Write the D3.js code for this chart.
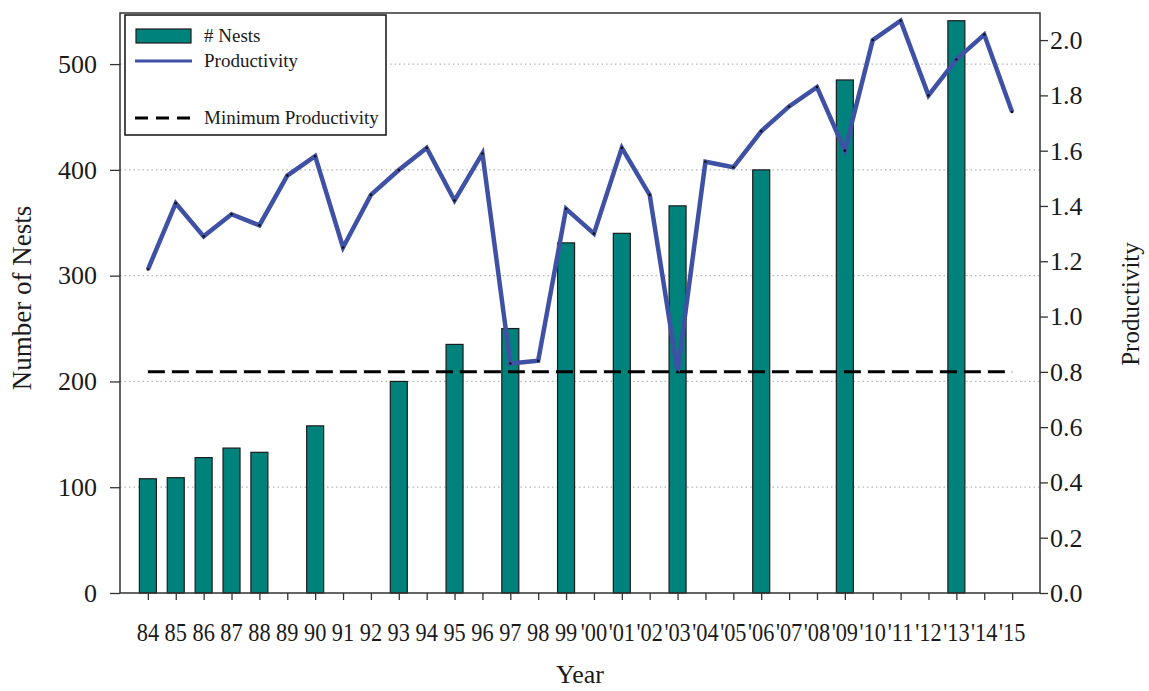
<!DOCTYPE html>
<html>
<head>
<meta charset="utf-8">
<script src="https://cdn.jsdelivr.net/npm/d3@7"></script>
<style>
  html, body { margin: 0; padding: 0; background: #fff; }
  svg { display: block; font-family: "Liberation Serif", "Times New Roman", serif; }
</style>
</head>
<body>
<svg id="chart" width="1149" height="691"></svg>
<script>
// ---- data ----
const years = ["84","85","86","87","88","89","90","91","92","93","94","95","96","97","98","99",
  "'00","'01","'02","'03","'04","'05","'06","'07","'08","'09","'10","'11","'12","'13","'14","'15"];
const nests = [108,109,128,137,133,null,158,null,null,200,null,235,null,250,null,331,
  null,340,null,366,null,null,400,null,null,485,null,null,null,541,null,null];
const productivity = [1.17,1.41,1.29,1.37,1.33,1.51,1.58,1.25,1.44,1.53,1.61,1.42,1.59,0.83,0.84,1.39,
  1.30,1.61,1.44,0.80,1.56,1.54,1.67,1.76,1.83,1.60,2.00,2.07,1.80,1.93,2.02,1.74];
const minProductivity = 0.8;
const leftTicks = [0,100,200,300,400,500];
const rightTicks = [0,0.2,0.4,0.6,0.8,1.0,1.2,1.4,1.6,1.8,2.0];

// ---- layout ----
const L = 120, R = 1040, T = 13, B = 593;
const svg = d3.select("#chart");

const x = d3.scalePoint().domain(years).range([L, R]).padding(1);
const yL = d3.scaleLinear().domain([0, 548.3]).range([B, T]);
const yR = d3.scaleLinear().domain([0, 2.098]).range([B, T]);

const teal = "#00827C", blue = "#3F51A5", axisCol = "#333", textCol = "#1a1a1a";

// gridlines
svg.append("g").selectAll("line").data(leftTicks.filter(d => d > 0)).join("line")
  .attr("x1", L).attr("x2", R)
  .attr("y1", d => yL(d)).attr("y2", d => yL(d))
  .attr("stroke", "#b5b5b5").attr("stroke-width", 1.2).attr("stroke-dasharray", "1.5,3");

// bars
const bw = 17;
svg.append("g").selectAll("rect")
  .data(years.map((y, i) => ({ y, v: nests[i] })).filter(d => d.v != null))
  .join("rect")
  .attr("x", d => x(d.y) - bw / 2).attr("width", bw)
  .attr("y", d => yL(d.v)).attr("height", d => yL(0) - yL(d.v))
  .attr("fill", teal).attr("stroke", "#1c1c1c").attr("stroke-width", 1.2);

// minimum productivity dashed line
svg.append("line")
  .attr("x1", x(years[0])).attr("x2", x(years[years.length - 1]))
  .attr("y1", yR(minProductivity)).attr("y2", yR(minProductivity))
  .attr("stroke", "#000").attr("stroke-width", 3).attr("stroke-dasharray", "17,7");

// productivity line
const line = d3.line().x((d, i) => x(years[i])).y(d => yR(d));
svg.append("path").datum(productivity)
  .attr("d", line).attr("fill", "none")
  .attr("stroke", blue).attr("stroke-width", 4.5).attr("stroke-linejoin", "miter");
svg.append("g").selectAll("circle").data(productivity).join("circle")
  .attr("cx", (d, i) => x(years[i])).attr("cy", d => yR(d)).attr("r", 1.3).attr("fill", "#111");

// frame
svg.append("rect").attr("x", L).attr("y", T).attr("width", R - L).attr("height", B - T)
  .attr("fill", "none").attr("stroke", axisCol).attr("stroke-width", 1.5);

// left axis
const gl = svg.append("g").attr("transform", `translate(${L},0)`)
  .call(d3.axisLeft(yL).tickValues(leftTicks).tickSize(10).tickPadding(13).tickFormat(d3.format("d")));
gl.select(".domain").remove();
gl.selectAll("line").attr("stroke", axisCol).attr("stroke-width", 1.3);
gl.selectAll("text").attr("font-size", 26).attr("fill", textCol)
  .attr("font-family", "Liberation Serif, serif");

// right axis
const gr = svg.append("g").attr("transform", `translate(${R},0)`)
  .call(d3.axisRight(yR).tickValues(rightTicks).tickSize(8).tickPadding(2).tickFormat(d3.format(".1f")));
gr.select(".domain").remove();
gr.selectAll("line").attr("stroke", axisCol).attr("stroke-width", 1.3);
gr.selectAll("text").attr("font-size", 26).attr("fill", textCol)
  .attr("font-family", "Liberation Serif, serif");

// bottom axis
const gb = svg.append("g").attr("transform", `translate(0,${B})`)
  .call(d3.axisBottom(x).tickSize(7).tickPadding(0));
gb.select(".domain").remove();
gb.selectAll("line").attr("stroke", axisCol).attr("stroke-width", 1.3);
gb.selectAll("text").remove();
svg.append("g").selectAll("text").data(years).join("text")
  .attr("transform", d => `translate(${x(d)},${641}) scale(0.86,1)`)
  .attr("text-anchor", "middle").attr("font-size", 26).attr("fill", textCol)
  .text(d => d);

// axis titles
svg.append("text").attr("x", 580).attr("y", 683).attr("text-anchor", "middle")
  .attr("font-size", 26).attr("fill", textCol).text("Year");
svg.append("text").attr("transform", `translate(31,${298}) rotate(-90)`)
  .attr("text-anchor", "middle").attr("font-size", 27).attr("fill", textCol).text("Number of Nests");
svg.append("text").attr("transform", `translate(1139,${304}) rotate(-90)`)
  .attr("text-anchor", "middle").attr("font-size", 25).attr("fill", textCol).text("Productivity");

// legend
const lg = svg.append("g");
lg.append("rect").attr("x", 125).attr("y", 15).attr("width", 261).attr("height", 120)
  .attr("fill", "#fff").attr("stroke", "#111").attr("stroke-width", 1.5);
lg.append("rect").attr("x", 136).attr("y", 29).attr("width", 55).attr("height", 14)
  .attr("fill", teal).attr("stroke", "#1c1c1c").attr("stroke-width", 1.2);
lg.append("line").attr("x1", 135).attr("x2", 192).attr("y1", 61).attr("y2", 61)
  .attr("stroke", blue).attr("stroke-width", 3);
lg.append("line").attr("x1", 135).attr("x2", 192).attr("y1", 118).attr("y2", 118)
  .attr("stroke", "#000").attr("stroke-width", 3).attr("stroke-dasharray", "13,8");
const legendLabels = [["# Nests", 42], ["Productivity", 67], ["Minimum Productivity", 124]];
lg.selectAll("text.lab").data(legendLabels).join("text").attr("class", "lab")
  .attr("x", 204).attr("y", d => d[1]).attr("font-size", 19).attr("fill", textCol)
  .text(d => d[0]);
</script>
</body>
</html>
